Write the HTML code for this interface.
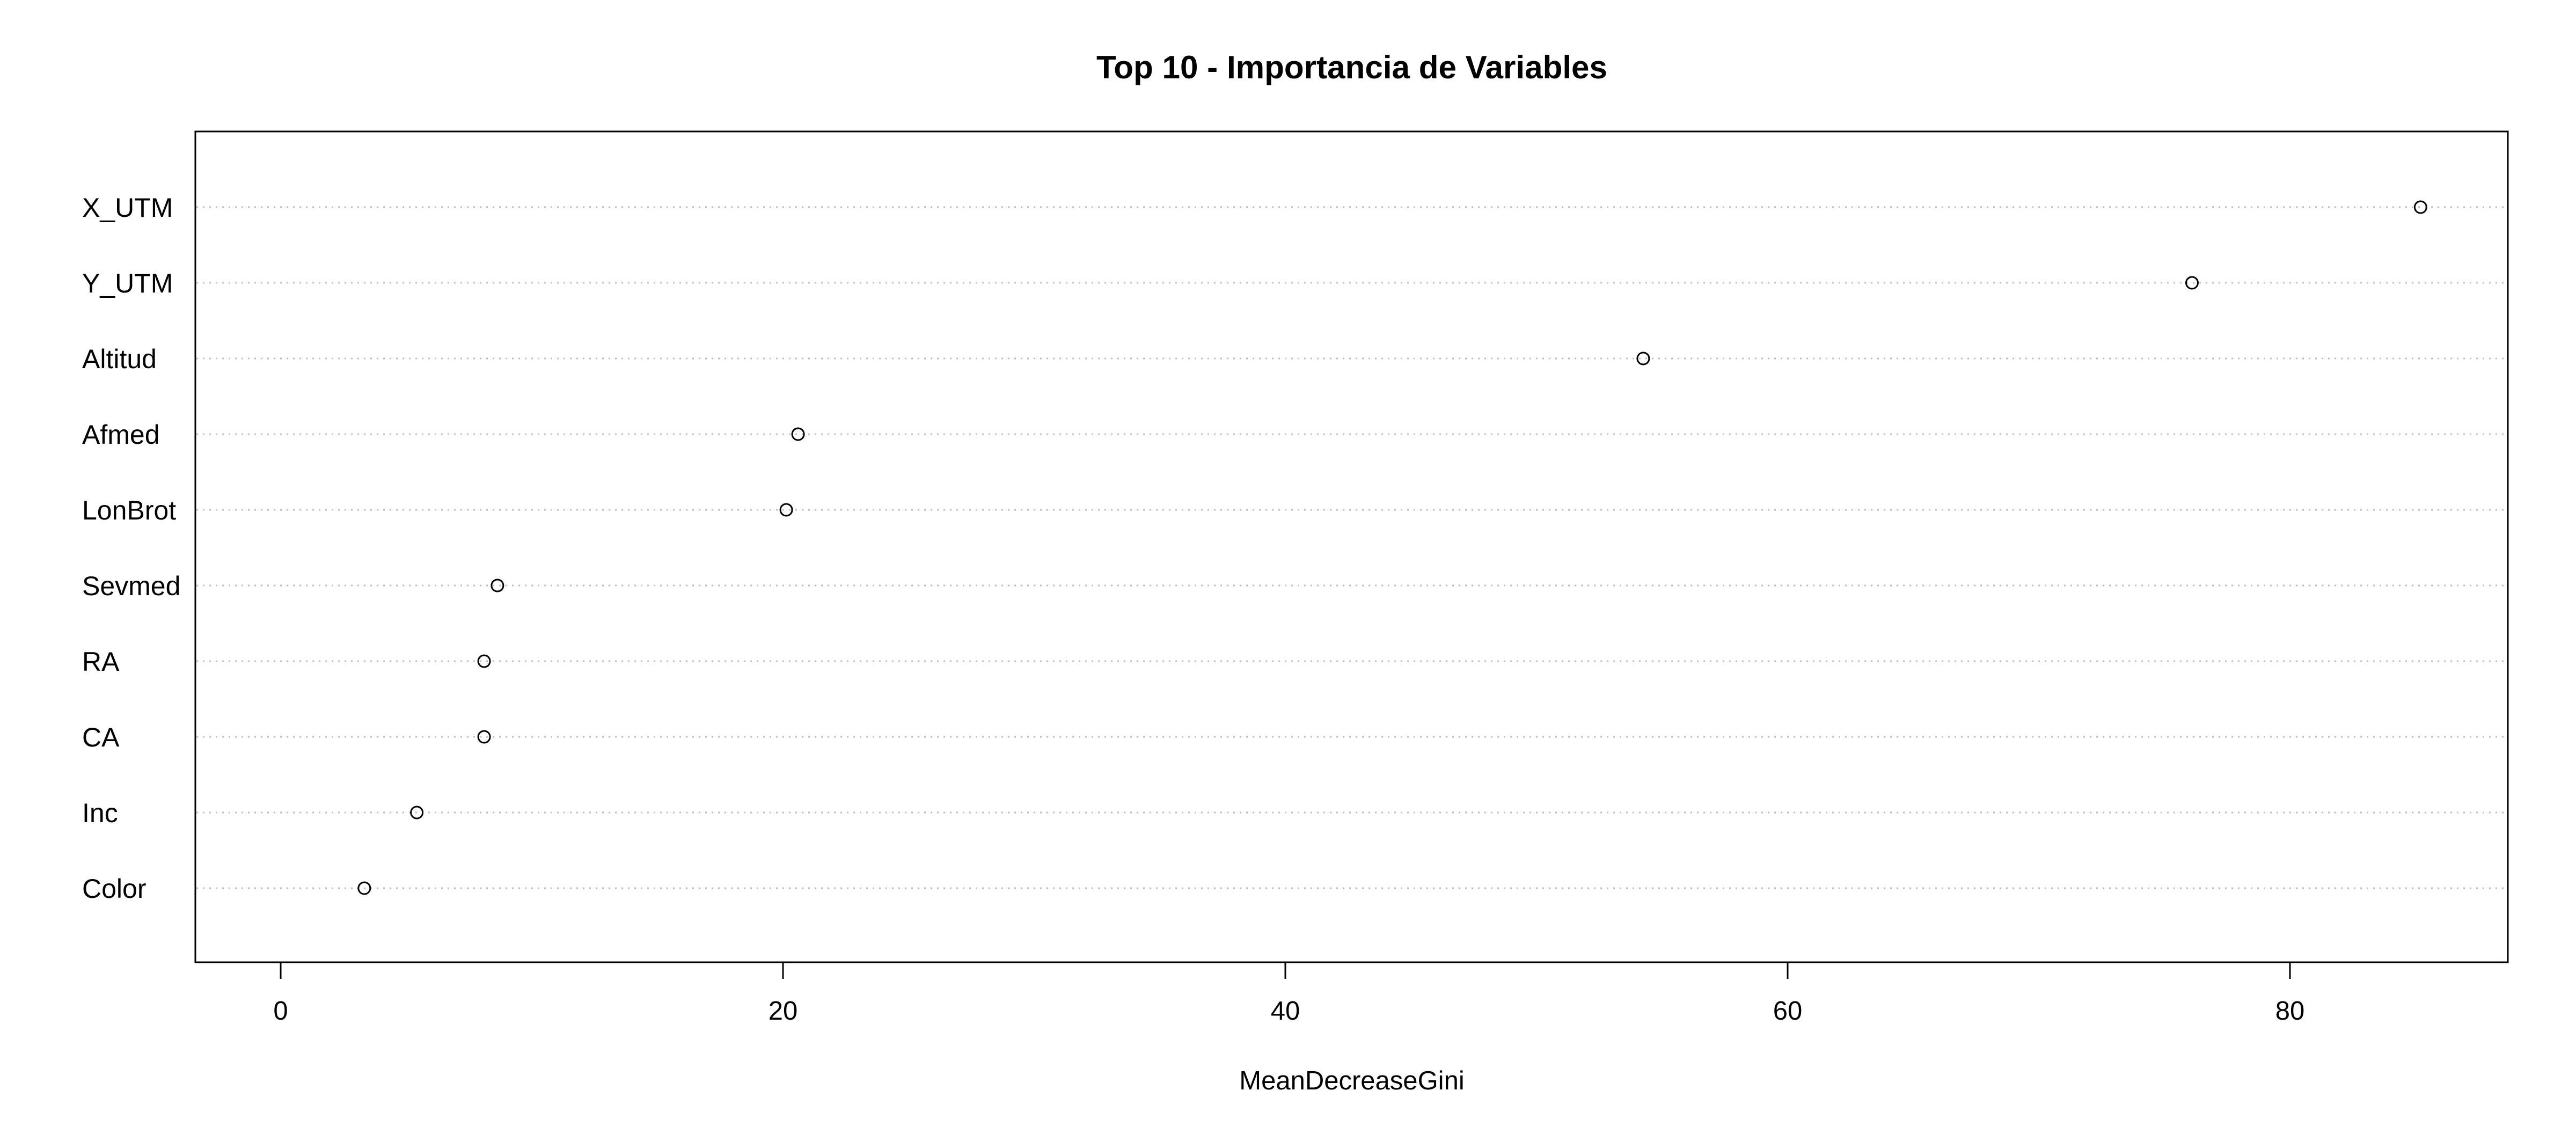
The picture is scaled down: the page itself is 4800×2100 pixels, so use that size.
<!DOCTYPE html>
<html><head><meta charset="utf-8"><style>html,body{margin:0;padding:0;background:#fff}svg{display:block}</style></head>
<body>
<svg id="chart" width="4800" height="2100" viewBox="0 0 4800 2100" xmlns="http://www.w3.org/2000/svg" font-family="Liberation Sans, Arial, sans-serif">
<rect x="0" y="0" width="4800" height="2100" fill="#fff"/>
<text x="2519" y="146" font-size="60" font-weight="bold" text-anchor="middle" textLength="952" lengthAdjust="spacingAndGlyphs">Top 10 - Importancia de Variables</text>
<g id="grid"></g>
<g id="labels"></g>
<g id="points"></g>
<g id="xaxis"></g>
<rect x="364" y="245" width="4309" height="1548" fill="none" stroke="#000" stroke-width="3"/>
<text x="2519" y="2030" font-size="49" text-anchor="middle">MeanDecreaseGini</text>
</svg>
<script>
const categories = ["X_UTM","Y_UTM","Altitud","Afmed","LonBrot","Sevmed","RA","CA","Inc","Color"];
const values = [85.2, 76.1, 54.25, 20.6, 20.13, 8.63, 8.1, 8.1, 5.42, 3.33];
const xTicks = [0, 20, 40, 60, 80];

const NS = "http://www.w3.org/2000/svg";
const x0px = 523, pxPerUnit = 46.8;
function xScale(v){ return x0px + v * pxPerUnit; }
function yScale(i){ return 386 + i * 141; }
function mk(tag, attrs, parent){
  const el = document.createElementNS(NS, tag);
  for (const k in attrs) el.setAttribute(k, attrs[k]);
  parent.appendChild(el);
  return el;
}
const grid = document.getElementById('grid');
const labels = document.getElementById('labels');
const points = document.getElementById('points');
const xaxis = document.getElementById('xaxis');
categories.forEach((c, i) => {
  const y = yScale(i);
  const gl = mk('line', {x1: 366, x2: 4671, y1: y, y2: y, stroke: '#bebebe', 'stroke-width': 3, 'stroke-dasharray': '3 9'}, grid);
  
  
  const t = mk('text', {x: 153, y: y + 18, 'font-size': 50}, labels);
  t.textContent = c;
  
  
  const p = mk('circle', {cx: xScale(values[i]), cy: y, r: 11, fill: 'none', stroke: '#000', 'stroke-width': 3}, points);
  
  
});
xTicks.forEach(v => {
  const x = xScale(v);
  const tk = mk('line', {x1: x, x2: x, y1: 1793, y2: 1824, stroke: '#000', 'stroke-width': 3}, xaxis);
  
  
  const tl = mk('text', {x: x, y: 1900, 'font-size': 49, 'text-anchor': 'middle'}, xaxis);
  tl.textContent = v;
  
  
});
const axl = mk('line', {x1: xScale(xTicks[0]), x2: xScale(xTicks[xTicks.length-1]), y1: 1793, y2: 1793, stroke: '#000', 'stroke-width': 3}, xaxis);


</script>
</body></html>
